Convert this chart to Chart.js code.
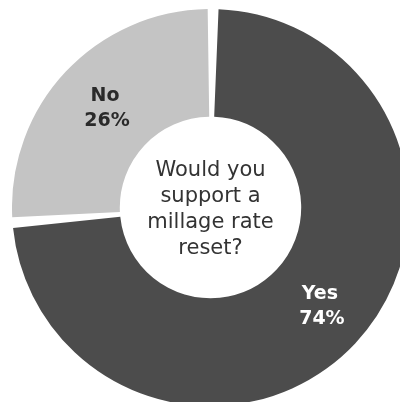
<!DOCTYPE html>
<html>
<head>
<meta charset="utf-8">
<script src="https://cdn.jsdelivr.net/npm/chart.js@4"></script>
<style>
  html, body { margin: 0; padding: 0; background: #fff; overflow: hidden; width: 400px; height: 402px; }
  #wrap { position: absolute; left: 12px; top: 9px; width: 397px; height: 397px; }
</style>
</head>
<body>
<div id="wrap"><canvas id="myChart"></canvas></div>
<script>
/* DATA */
var labels = ['Yes', 'No'];
var values = [74, 26];
var colors = ['#4c4c4c', '#c4c4c4'];
var labelColors = ['#ffffff', '#2a2a2a'];
var question = ['Would you', 'support a', 'millage rate', 'reset?'];

/* PLUGINS */
var centerText = {
  id: 'centerText',
  afterDraw: function(chart) {
    var arc = chart.getDatasetMeta(0).data[0];
    var c = chart.ctx;
    c.save();
    c.font = '21px "DejaVu Sans"';
    c.fillStyle = '#333';
    c.textAlign = 'center';
    c.textBaseline = 'alphabetic';
    var lh = 26;
    var y0 = arc.y - 32;
    question.forEach(function(line, i) {
      c.fillText(line, arc.x, y0 + i * lh);
    });
    c.restore();
  }
};

var sliceLabels = {
  id: 'sliceLabels',
  afterDatasetsDraw: function(chart) {
    var c = chart.ctx;
    var meta = chart.getDatasetMeta(0);
    var total = values.reduce(function(a, b) { return a + b; }, 0);
    c.save();
    c.font = 'bold 19px "DejaVu Sans"';
    c.textAlign = 'center';
    c.textBaseline = 'middle';
    meta.data.forEach(function(arc, i) {
      var p = arc.getCenterPoint();
      // Yes label sits a little further out in the reference
      var dx = i === 0 ? 4 : 0;
      c.fillStyle = labelColors[i];
      c.fillText(labels[i], p.x + dx, p.y - 12);
      c.fillText(Math.round(values[i] / total * 100) + '%', p.x + dx + 2, p.y + 13);
    });
    c.restore();
  }
};

/* CHART */
var ctx = document.getElementById('myChart').getContext('2d');

var chart = new Chart(ctx, {
  type: 'doughnut',
  data: {
    labels: labels,
    datasets: [{
      data: values,
      backgroundColor: colors,
      borderWidth: 0,
      spacing: 5,
    }]
  },
  options: {
    responsive: true,
    maintainAspectRatio: false,
    animation: false,
    cutout: '45%',
    layout: { padding: 0 },
    plugins: {
      legend: { display: false },
      tooltip: { enabled: false },
    },
  },
  plugins: [centerText, sliceLabels],
});
</script>
</body>
</html>
